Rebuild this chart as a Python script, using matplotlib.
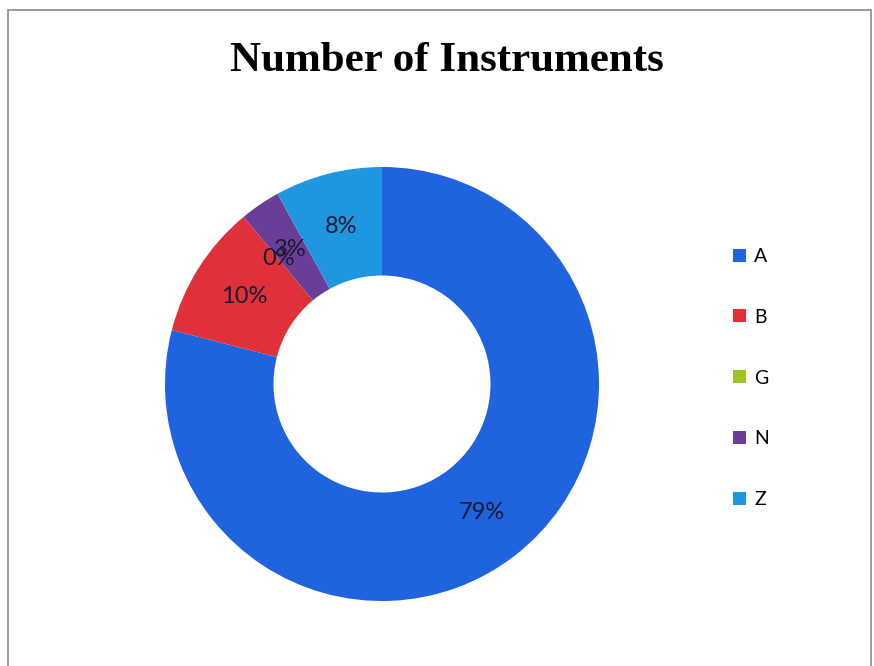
import matplotlib

matplotlib.use("Agg")
import matplotlib.pyplot as plt
from matplotlib.patches import Patch, Rectangle

# share of instruments per group
groups = ["A", "B", "G", "N", "Z"]
shares = [79, 10, 0, 3, 8]
colors = ["#1F63DE", "#E0303A", "#9CC424", "#6A3D98", "#1E96E0"]

W, H = 874, 666
fig = plt.figure(figsize=(W / 100, H / 100), dpi=100)

# chart frame
fig.add_artist(Rectangle((8 / W, -0.05), (871 - 8) / W, 1.05 - 10 / H,
                         transform=fig.transFigure, fill=False,
                         edgecolor="#8a8a8a", linewidth=1.2))

fig.text(447 / W, 1 - 61 / H, "Number of Instruments", ha="center", va="center",
         family="Liberation Serif", fontweight="bold", fontsize=31)

# donut centred at (382, 384) px, outer radius ~217 px
cx, cy, r = 382, 384, 217
ax = fig.add_axes([(cx - r) / W, (H - cy - r) / H, 2 * r / W, 2 * r / H])
wedges, _, autotexts = ax.pie(
    shares, colors=colors, startangle=90, counterclock=False,
    radius=1.0, autopct="%.0f%%", pctdistance=0.75,
    wedgeprops=dict(width=0.5, linewidth=0),
    textprops=dict(fontsize=17, color="#1a1a30", family="Lato"),
)
ax.set_xlim(-1, 1)
ax.set_ylim(-1, 1)
ax.set_aspect("equal")
ax.axis("off")

handles = [Patch(facecolor=c, edgecolor="none") for c in colors]
fig.legend(handles, groups, loc="upper left",
           bbox_to_anchor=(733 / W, 1 - 248 / H), frameon=False,
           prop=dict(family="Lato", size=14), handlelength=0.65,
           handleheight=0.65, handletextpad=0.45, labelspacing=2.25,
           borderpad=0, borderaxespad=0)

fig.savefig("out.png", dpi=100)
